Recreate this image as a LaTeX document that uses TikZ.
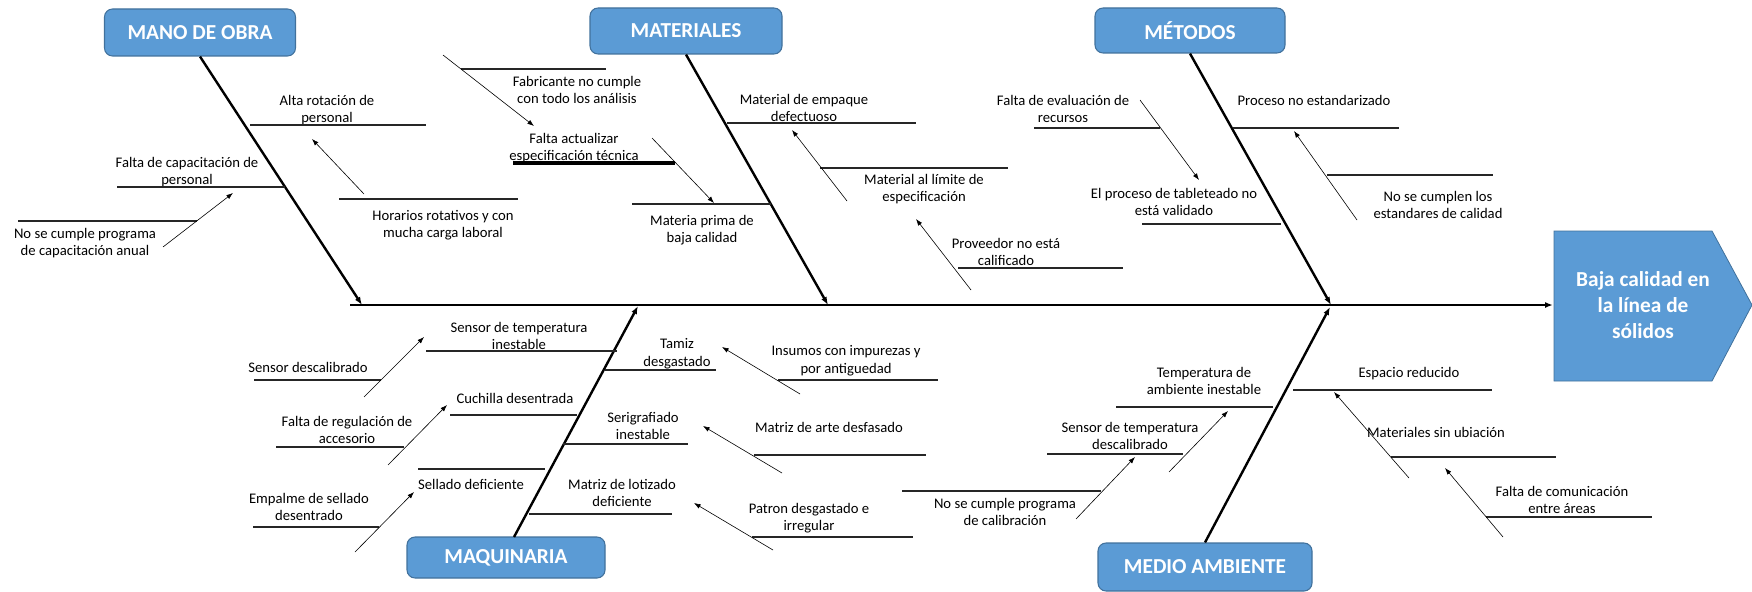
\documentclass[tikz,border=0pt]{standalone}
\usepackage{fontspec}
\setmainfont{Carlito}
\usetikzlibrary{arrows.meta}
\definecolor{boxblue}{HTML}{5B9BD5}
\definecolor{boxedge}{HTML}{41719C}

\begin{document}
\begin{tikzpicture}[x=0.75pt,y=-0.75pt,
  catbox/.style={draw=boxedge, line width=0.8pt, fill=boxblue, rounded corners=6pt,
    text=white, font=\bfseries\fontsize{16}{19}\selectfont, inner sep=0pt},
  cause/.style={font=\fontsize{11}{13.2}\selectfont, align=center, inner sep=0pt},
  bone/.style={line width=1.8pt, -{Latex[length=6pt,width=4.5pt]}},
  twig/.style={line width=0.8pt, black!85},
  thicktwig/.style={line width=3pt, black},
  lead/.style={line width=0.45pt, -{Latex[length=5pt,width=3.6pt]}},
]
\useasboundingbox (0,0) rectangle (1752,592);

% ---------- effect (head) ----------
\fill[boxblue, draw=boxedge, line width=0.6pt]
  (1554,231) -- (1712,231) -- (1752,305) -- (1712,381) -- (1554,381) -- cycle;
\node[text=white, font=\bfseries\fontsize{16}{19.5}\selectfont, align=center, inner sep=0pt]
  (head) at (1643,305) {Baja calidad en\\la línea de\\sólidos};
\coordinate (headL) at (1553,305);

% ---------- category boxes ----------
\node[catbox, minimum width=143.25pt, minimum height=35.25pt] (mano) at (200,32.5) {MANO DE OBRA};
\node[catbox, minimum width=144pt, minimum height=34.5pt] (mat) at (686,31) {MATERIALES};
\node[catbox, minimum width=142.5pt, minimum height=33.75pt] (met) at (1190,30.5) {MÉTODOS};
\node[catbox, minimum width=148.5pt, minimum height=30.75pt] (maq) at (506,557.5) {MAQUINARIA};
\node[catbox, minimum width=160.5pt, minimum height=36pt] (amb) at (1205,567) {MEDIO AMBIENTE};

% ---------- spine and bones ----------
\coordinate (tail) at (350,305);
\coordinate (jMano) at (362,305);
\coordinate (jMat) at (828,305);
\coordinate (jMet) at (1331,305);
\coordinate (jMaq) at (638,306);
\coordinate (jAmb) at (1330,307);
\coordinate (maqTop) at (514,537);

\draw[bone] (tail) -- (headL);
\draw[bone] (mano.south) -- (jMano);
\draw[bone] (mat.south) -- (jMat);
\draw[bone] (met.south) -- (jMet);
\draw[bone] (maqTop) -- (jMaq);
\draw[bone] (amb.north) -- (jAmb);

% ---------- MANO DE OBRA ----------
\node[cause] (c1) at (327,110) {Alta rotación de\\personal};
\draw[twig] (250,125) -- (426,125);
\node[cause] (c2) at (187,172) {Falta de capacitación de\\personal};
\draw[twig] (117,187) -- (285,187);
\node[cause] (c3) at (85,243) {No se cumple programa\\de capacitación anual};
\draw[twig] (18,221) -- (197,221);
\draw[lead] (163,247) -- (233,193);
\node[cause] (c4) at (443,225) {Horarios rotativos y con\\mucha carga laboral};
\draw[twig] (339,199) -- (518,199);
\draw[lead] (364,194) -- (312,139);

% ---------- MATERIALES ----------
\node[cause] (c5) at (577,90) {Fabricante no cumple\\con todo los análisis};
\draw[twig] (461,69) -- (606,69);
\draw[lead] (443,55) -- (534,126);
\node[cause] (c6) at (574,148) {Falta actualizar\\especificación técnica};
\draw[thicktwig] (513,163) -- (675,163);
\draw[lead] (652,138) -- (714,203);
\node[cause] (c7) at (702,230) {Materia prima de\\baja calidad};
\draw[twig] (632,204) -- (771,204);
\node[cause] (c8) at (804,108) {Material de empaque\\defectuoso};
\draw[twig] (727,123) -- (916,123);
\node[cause] (c9) at (924,189) {Material al límite de\\especificación};
\draw[twig] (820,168) -- (1008,168);
\draw[lead] (847,201) -- (792,130);
\node[cause] (c10) at (1006,252) {Proveedor no está\\calificado};
\draw[twig] (958,268) -- (1123,268);
\draw[lead] (971,290) -- (916,219);

% ---------- MÉTODOS ----------
\node[cause] (c11) at (1063,109) {Falta de evaluación de\\recursos};
\draw[twig] (1034,128) -- (1160,128);
\draw[lead] (1140,100) -- (1199,180);
\node[cause] (c12) at (1174,202) {El proceso de tableteado no\\está validado};
\draw[twig] (1142,224) -- (1281,224);
\node[cause] (c13) at (1314,100) {Proceso no estandarizado};
\draw[twig] (1233,128) -- (1399,128);
\node[cause] (c14) at (1438,205) {No se cumplen los\\estandares de calidad};
\draw[twig] (1327,175) -- (1493,175);
\draw[lead] (1357,220) -- (1294,131);

% ---------- MAQUINARIA ----------
\node[cause] (c15) at (519,336) {Sensor de temperatura\\inestable};
\draw[twig] (426,351) -- (617,351);
\node[cause] (c16) at (308,367) {Sensor descalibrado};
\draw[twig] (254,380) -- (381,380);
\draw[lead] (364,397) -- (424,337);
\node[cause] (c17) at (515,398) {Cuchilla desentrada};
\draw[twig] (450,415) -- (577,415);
\node[cause] (c18) at (347,430) {Falta de regulación de\\accesorio};
\draw[twig] (276,447) -- (404,447);
\draw[lead] (388,465) -- (447,405);
\node[cause] (c19) at (471,484) {Sellado deficiente};
\draw[twig] (418,469) -- (545,469);
\node[cause] (c20) at (309,507) {Empalme de sellado\\desentrado};
\draw[twig] (253,527) -- (379,527);
\draw[lead] (355,552) -- (414,492);
\node[cause] (c21) at (677,354) {Tamiz\\desgastado};
\draw[twig] (605,370) -- (716,370);
\node[cause] (c22) at (846,361) {Insumos con impurezas y\\por antiguedad};
\draw[twig] (778,380) -- (938,380);
\draw[lead] (800,394) -- (722,347);
\node[cause] (c23) at (643,426) {Serigrafiado\\inestable};
\draw[twig] (563,444) -- (688,444);
\node[cause] (c24) at (829,427) {Matriz de arte desfasado};
\draw[twig] (754,455) -- (926,455);
\draw[lead] (782,473) -- (703,426);
\node[cause] (c25) at (622,493) {Matriz de lotizado\\deficiente};
\draw[twig] (529,514) -- (672,514);
\node[cause] (c26) at (809,518) {Patron desgastado e\\irregular};
\draw[twig] (752,537) -- (913,537);
\draw[lead] (773,550) -- (694,503);

% ---------- MEDIO AMBIENTE ----------
\node[cause] (c27) at (1204,381) {Temperatura de\\ambiente inestable};
\draw[twig] (1116,407) -- (1273,407);
\node[cause] (c28) at (1130,436) {Sensor de temperatura\\descalibrado};
\draw[twig] (1047,454) -- (1183,454);
\draw[lead] (1169,472) -- (1228,411);
\node[cause] (c29) at (1005,512) {No se cumple programa\\de calibración};
\draw[twig] (902,491) -- (1101,491);
\draw[lead] (1076,519) -- (1135,457);
\node[cause] (c30) at (1409,374) {Espacio reducido};
\draw[twig] (1293,390) -- (1492,390);
\node[cause] (c31) at (1436,432) {Materiales sin ubiación};
\draw[twig] (1391,457) -- (1556,457);
\draw[lead] (1409,478) -- (1334,392);
\node[cause] (c32) at (1562,500) {Falta de comunicación\\entre áreas};
\draw[twig] (1486,517) -- (1652,517);
\draw[lead] (1503,537) -- (1445,468);
\end{tikzpicture}
\end{document}
